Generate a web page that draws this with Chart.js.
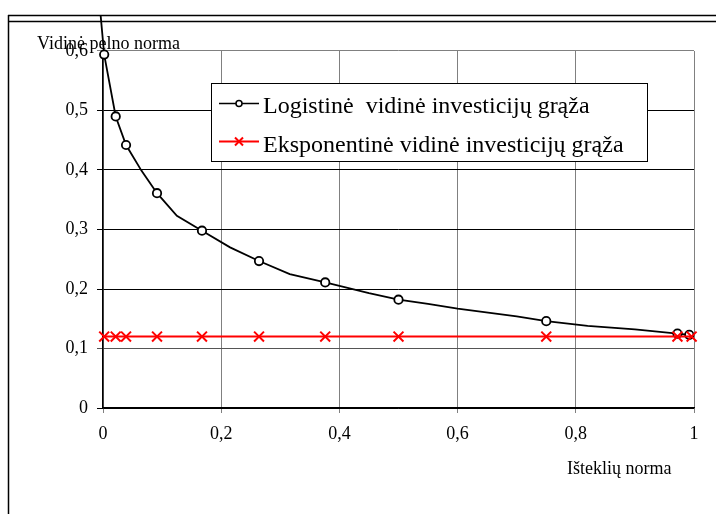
<!DOCTYPE html>
<html>
<head>
<meta charset="utf-8">
<script src="https://cdn.jsdelivr.net/npm/chart.js@4/dist/chart.umd.min.js"></script>
<style>
  html, body { margin: 0; padding: 0; background: #fff; }
  #wrap { width: 716px; height: 514px; }
</style>
</head>
<body>
<div id="wrap"><canvas id="c" width="716" height="514"></canvas></div>
<script>
// Axis tick labels (decimal comma)
const xTickLabels = ['0', '0,2', '0,4', '0,6', '0,8', '1'];
const yTickLabels = ['0', '0,1', '0,2', '0,3', '0,4', '0,5', '0,6'];

// Logistic internal rate of return curve; marked = drawn with a circle
const logisticX = [-0.004, 0.002, 0.0215, 0.039, 0.065, 0.0914, 0.125, 0.1675, 0.215, 0.264, 0.316, 0.376, 0.45, 0.5, 0.55, 0.6, 0.7, 0.75, 0.82, 0.9, 0.972, 0.992];
const logisticY = [0.66, 0.594, 0.49, 0.442, 0.399, 0.361, 0.323, 0.298, 0.27, 0.247, 0.225, 0.211, 0.193, 0.182, 0.175, 0.167, 0.154, 0.146, 0.138, 0.132, 0.125, 0.123];
const logisticMarked = [false, true, true, true, false, true, false, true, false, true, false, true, false, true, false, false, false, true, false, false, true, true];

// Exponential internal rate of return
const exponentialX = [0.002, 0.0215, 0.039, 0.0914, 0.1675, 0.264, 0.376, 0.5, 0.75, 0.972, 0.996];
const exponentialY = [0.12, 0.12, 0.12, 0.12, 0.12, 0.12, 0.12, 0.12, 0.12, 0.12, 0.12];

const seriesNames = ['Logistinė  vidinė investicijų grąža', 'Eksponentinė vidinė investicijų grąža'];
const yTitle = 'Vidinė pelno norma';
const xTitle = 'Išteklių norma';

const SERIF = "'Liberation Serif', 'Times New Roman', serif";

const logisticData = logisticX.map((x, i) => ({ x, y: logisticY[i] }));
const exponentialData = exponentialX.map((x, i) => ({ x, y: exponentialY[i] }));

// Outer page frame: double rule at the top, single rule on the left
const framePlugin = {
  id: 'frame',
  beforeDraw(chart) {
    const ctx = chart.ctx;
    ctx.save();
    ctx.fillStyle = '#fff';
    ctx.fillRect(0, 0, chart.width, chart.height);
    ctx.strokeStyle = '#000';
    ctx.lineWidth = 1.5;
    ctx.beginPath();
    ctx.moveTo(8, 15.5); ctx.lineTo(chart.width, 15.5);
    ctx.moveTo(8, 21.5); ctx.lineTo(chart.width, 21.5);
    ctx.moveTo(8.5, 15); ctx.lineTo(8.5, chart.height);
    ctx.stroke();
    ctx.restore();
  }
};

// Axis titles drawn at fixed spots
const titlesPlugin = {
  id: 'axisTitles',
  beforeDatasetsDraw(chart) {
    const ctx = chart.ctx;
    ctx.save();
    ctx.fillStyle = '#000';
    ctx.font = '18px ' + SERIF;
    ctx.textBaseline = 'alphabetic';
    ctx.textAlign = 'left';
    ctx.fillText(yTitle, 37, 49);
    ctx.fillText(xTitle, 567, 474);
    ctx.restore();
  }
};

// Boxed legend inside the plot
const boxLegendPlugin = {
  id: 'boxLegend',
  afterDatasetsDraw(chart) {
    const ctx = chart.ctx;
    const bx = 211, by = 83.5, bw = 436, bh = 78;
    ctx.save();
    ctx.fillStyle = '#fff';
    ctx.fillRect(bx, by, bw, bh);
    ctx.strokeStyle = '#000';
    ctx.lineWidth = 1;
    ctx.strokeRect(bx + 0.5, by, bw, bh);
    const rows = [103.5, 141.5];
    const baselines = [113, 151.5];
    chart.data.datasets.forEach((ds, i) => {
      const y = rows[i];
      ctx.strokeStyle = ds.borderColor;
      ctx.lineWidth = i === 0 ? 1.5 : 2;
      ctx.beginPath();
      ctx.moveTo(219, y); ctx.lineTo(259, y);
      ctx.stroke();
      ctx.fillStyle = '#fff';
      ctx.strokeStyle = ds.pointBorderColor;
      if (i === 0) {
        ctx.lineWidth = 1.5;
        ctx.beginPath(); ctx.arc(239, y, 3, 0, Math.PI * 2); ctx.fill(); ctx.stroke();
      } else {
        ctx.lineWidth = 2;
        ctx.beginPath();
        ctx.moveTo(235, y - 4); ctx.lineTo(243, y + 4);
        ctx.moveTo(243, y - 4); ctx.lineTo(235, y + 4);
        ctx.stroke();
      }
      ctx.fillStyle = '#000';
      ctx.font = '24px ' + SERIF;
      ctx.textAlign = 'left';
      ctx.textBaseline = 'alphabetic';
      ctx.fillText(ds.label, 263, baselines[i]);
    });
    ctx.restore();
  }
};

new Chart(document.getElementById('c'), {
  type: 'scatter',
  data: {
    datasets: [
      {
        label: seriesNames[0],
        data: logisticData,
        showLine: true,
        borderColor: '#000',
        borderWidth: 1.8,
        tension: 0,
        pointStyle: 'circle',
        pointRadius: ctx => logisticMarked[ctx.dataIndex] ? 4.2 : 0,
        pointBorderWidth: 1.8,
        pointBorderColor: '#000',
        pointBackgroundColor: '#fff',
        clip: false,
        order: 2
      },
      {
        label: seriesNames[1],
        data: exponentialData,
        showLine: true,
        borderColor: '#ff0000',
        borderWidth: 2,
        tension: 0,
        pointStyle: 'crossRot',
        pointRadius: 7,
        pointBorderWidth: 2,
        pointBorderColor: '#ff0000',
        pointBackgroundColor: '#ff0000',
        clip: false,
        order: 1
      }
    ]
  },
  options: {
    responsive: false,
    devicePixelRatio: 1,
    animation: false,
    layout: { padding: { left: 0, top: 51, right: 22, bottom: 0 } },
    plugins: {
      legend: { display: false },
      tooltip: { enabled: false },
      title: { display: false }
    },
    scales: {
      x: {
        type: 'linear',
        min: 0,
        max: 1,
        afterFit(scale) { scale.height = 106; },
        afterBuildTicks(scale) {
          scale.ticks = xTickLabels.map((_, i) => ({ value: i * 0.2 }));
        },
        ticks: {
          autoSkip: false,
          maxRotation: 0,
          padding: 10,
          color: '#000',
          font: { family: SERIF, size: 18 },
          callback: (v, i) => xTickLabels[i]
        },
        grid: {
          color: '#808080',
          lineWidth: 1,
          tickLength: 5,
          drawTicks: true
        },
        border: { display: true, color: '#000', width: 1.5 }
      },
      y: {
        type: 'linear',
        min: 0,
        max: 0.6,
        afterFit(scale) { scale.width = 103; },
        afterBuildTicks(scale) {
          scale.ticks = yTickLabels.map((_, i) => ({ value: i * 0.1 }));
        },
        ticks: {
          autoSkip: false,
          padding: 9,
          color: '#000',
          font: { family: SERIF, size: 18 },
          callback: (v, i) => yTickLabels[i]
        },
        grid: {
          color: ctx => (ctx.index === 6 ? '#808080' : (ctx.index === 1 ? '#555' : '#000')),
          lineWidth: 1,
          tickLength: 6,
          drawTicks: true
        },
        border: { display: true, color: '#000', width: 1.5 }
      }
    }
  },
  plugins: [framePlugin, titlesPlugin, boxLegendPlugin]
});
</script>
</body>
</html>
